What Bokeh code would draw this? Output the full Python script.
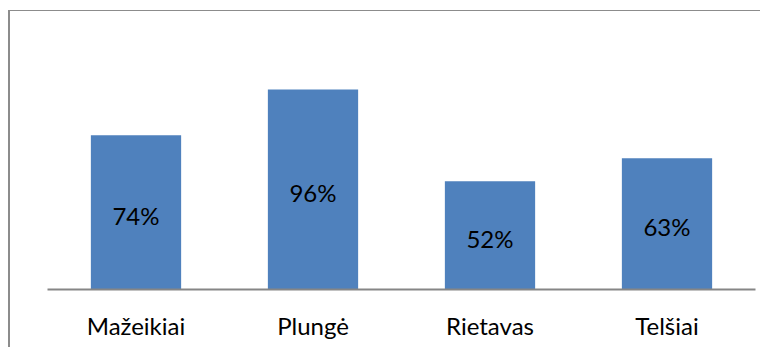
from bokeh.plotting import figure
from bokeh.models import ColumnDataSource, FactorRange, Range1d, LabelSet
from bokeh.core.properties import value
from bokeh.embed import file_html
from bokeh.resources import INLINE

# Share of each district
districts = ["Mažeikiai", "Plungė", "Rietavas", "Telšiai"]
shares = [0.74, 0.96, 0.52, 0.63]
share_labels = ["74%", "96%", "52%", "63%"]

src = ColumnDataSource(dict(
    district=districts,
    share=shares,
    mid=[v / 2 for v in shares],
    label=share_labels,
))

p = figure(
    x_range=FactorRange(*districts, range_padding=0),
    y_range=Range1d(0, 1.2),
    width=752, height=337,
    output_backend="svg", toolbar_location=None,
    min_border_left=37, min_border_right=7,
    min_border_top=28, min_border_bottom=59,
    background_fill_color="white", border_fill_color="white",
)
# outer chart-area box: left and top edges
p.margin = (10, 0, 0, 8)
p.styles = {"border-left": "2px solid #8C8C8C", "border-top": "1px solid #8C8C8C"}

p.outline_line_color = None
p.grid.grid_line_color = None
p.yaxis.visible = False

p.vbar(x="district", top="share", width=0.51, source=src,
       fill_color="#4F81BD", line_color=None)

labels = LabelSet(x="district", y="mid", text="label", source=src,
                  text_align="center", text_baseline="middle", y_offset=-3,
                  text_font=value("Lato"), text_font_size=value("24px"),
                  text_color="#000000")
p.add_layout(labels)

ax = p.xaxis[0]
ax.axis_line_color = "#868686"
ax.axis_line_width = 2
ax.major_tick_line_color = None
ax.minor_tick_line_color = None
ax.major_label_text_font = "Lato"
ax.major_label_text_font_size = "24px"
ax.major_label_text_color = "#000000"
ax.major_label_standoff = 15

open("out.html", "w").write(file_html(p, INLINE))
